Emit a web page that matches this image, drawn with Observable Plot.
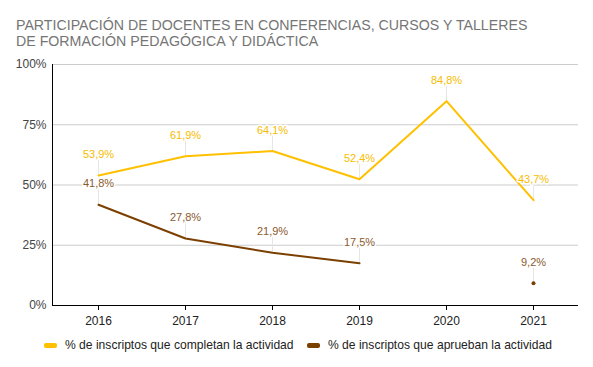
<!DOCTYPE html>
<html><head><meta charset="utf-8">
<script src="https://cdn.jsdelivr.net/npm/d3@7"></script>
<script src="https://cdn.jsdelivr.net/npm/@observablehq/plot@0.6"></script>
<style>
body{margin:0;background:#fff;font-family:"Liberation Sans",Arial,sans-serif;width:593px;height:367px;overflow:hidden}
#title{height:50px;position:relative}
.tl{position:absolute;left:16px;font-size:14.2px;line-height:16px;height:16px;color:#757575;white-space:nowrap}
#legend{font-size:12.1px;color:#222}
.item{display:flex;align-items:center;position:absolute}
.sw{width:13px;height:5px;border-radius:2px;margin-right:8px}
</style></head>
<body>
<div id="title"><div class="tl" style="top:17px">PARTICIPACIÓN DE DOCENTES EN CONFERENCIAS, CURSOS Y TALLERES</div><div class="tl" style="top:33px">DE FORMACIÓN PEDAGÓGICA Y DIDÁCTICA</div></div>
<div id="chart"></div>
<div id="legend"></div>
<script>
const years = ["2016","2017","2018","2019","2020","2021"];
const completan = [53.9, 61.9, 64.1, 52.4, 84.8, 43.7];
const aprueban = [41.8, 27.8, 21.9, 17.5, null, 9.2];
const seriesNames = ["% de inscriptos que completan la actividad", "% de inscriptos que aprueban la actividad"];
const lineColors = ["#FFC000", "#7B3F00"];
const textColors = ["#F7BC00", "#8A5A2E"];
const yTicks = [0, 25, 50, 75, 100];

const comp = years.map((y, i) => ({year: y, value: completan[i]}));
const apr = years.map((y, i) => ({year: y, value: aprueban[i]}));
const aprDef = apr.filter(d => d.value != null);
const fmt = v => v.toFixed(1).replace(".", ",") + "%";

const chart = Plot.plot({
  width: 593,
  height: 285,
  marginTop: 14,
  marginBottom: 30,
  marginLeft: 52,
  marginRight: 15,
  style: {fontFamily: "Liberation Sans, Arial, sans-serif", fontSize: "12px", color: "#444"},
  x: {type: "point", domain: years, padding: 0.5, label: null},
  y: {domain: [0, 100], label: null},
  marks: [
    Plot.ruleY(yTicks.filter(d => d > 0), {stroke: "#cccccc", strokeWidth: 1}),
    Plot.axisY({ticks: yTicks, tickFormat: d => d + "%", tickSize: 0, tickPadding: 6, fill: "#444", fontSize: 12, label: null}),
    Plot.axisX({tickSize: 5, tickPadding: 6, fill: "#222", fontSize: 12, stroke: "#000", label: null}),
    Plot.ruleX(comp, {x: "year", y1: "value", y2: d => d.value + 6.5, stroke: "#e6e6e6"}),
    Plot.ruleX(aprDef, {x: "year", y1: "value", y2: d => d.value + 6.5, stroke: "#e6e6e6"}),
    Plot.line(comp, {x: "year", y: "value", stroke: lineColors[0], strokeWidth: 2}),
    Plot.line(apr, {x: "year", y: "value", stroke: lineColors[1], strokeWidth: 2, defined: d => d.value != null}),
    Plot.dot([apr[5]], {x: "year", y: "value", r: 2, fill: lineColors[1]}),
    Plot.text(comp, {x: "year", y: "value", text: d => fmt(d.value), dy: -21, fill: textColors[0], stroke: "white", strokeWidth: 3, fontSize: 11}),
    Plot.text(aprDef, {x: "year", y: "value", text: d => fmt(d.value), dy: -21, fill: textColors[1], stroke: "white", strokeWidth: 3, fontSize: 11}),
    Plot.ruleY([0], {stroke: "#000", strokeWidth: 1}),
    Plot.frame({anchor: "left", stroke: "#000"})
  ]
});
document.getElementById("chart").appendChild(chart);

const legend = document.getElementById("legend");
const lx = [44, 307];
seriesNames.forEach((n, i) => {
  const it = document.createElement("div");
  it.className = "item";
  it.style.left = lx[i] + "px";
  it.style.top = "335px";
  it.style.height = "20px";
  it.innerHTML = `<span class="sw" style="background:${lineColors[i]}"></span><span>${n}</span>`;
  legend.appendChild(it);
});
</script>
</body></html>
